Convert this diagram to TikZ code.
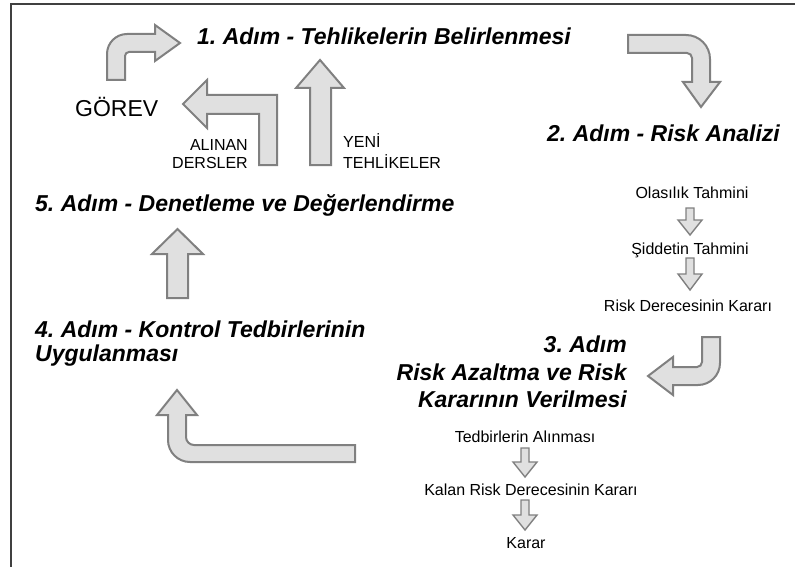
\documentclass[tikz,border=0pt]{standalone}
\usepackage{fontspec}
\setmainfont{Liberation Sans}
\definecolor{arrfill}{HTML}{E0E0E0}
\definecolor{arrline}{HTML}{808080}
\definecolor{framec}{HTML}{404040}
\newcommand{\hdfont}{\fontsize{23}{27.5}\selectfont\bfseries\itshape}
\newcommand{\smfont}{\fontsize{16}{19}\selectfont}
\newcommand{\gvfont}{\fontsize{23}{27.5}\selectfont}
\frenchspacing
\begin{document}
\frenchspacing
\begin{tikzpicture}[x=1pt,y=-1pt,
  blk/.style={fill=arrfill, draw=arrline, line width=2pt, line join=miter},
  sblk/.style={fill=arrfill, draw=arrline, line width=1.4pt, line join=miter},
  hd/.style={font=\hdfont, inner sep=0pt},
  sm/.style={font=\smfont, inner sep=0pt},
  gv/.style={font=\gvfont, inner sep=0pt},
  frame/.style={draw=framec, line width=2pt}]
\useasboundingbox (0,0) rectangle (795,567);
\draw[frame] (11,567) -- (11,4) -- (795,4);

% texts
\node[hd, anchor=base west] (s1) at (197,45) {1. Adım - Tehlikelerin Belirlenmesi};
\node[hd, anchor=base east] (s2) at (780,142) {2. Adım - Risk Analizi};
\node[sm, anchor=base] (o1) at (692,198) {Olasılık Tahmini};
\node[sm, anchor=base] (o2) at (690,254) {Şiddetin Tahmini};
\node[sm, anchor=base] (o3) at (688,311) {Risk Derecesinin Kararı};
\node[hd, anchor=base east] (s3a) at (627,352) {3. Adım};
\node[hd, anchor=base east] (s3b) at (627,380) {Risk Azaltma ve Risk};
\node[hd, anchor=base east] (s3c) at (627,407) {Kararının Verilmesi};
\node[sm, anchor=base] (t1) at (525,442) {Tedbirlerin Alınması};
\node[sm, anchor=base] (t2) at (531,495) {Kalan Risk Derecesinin Kararı};
\node[sm, anchor=base] (t3) at (526,548) {Karar};
\node[hd, anchor=base west] (s4a) at (35,337) {4. Adım - Kontrol Tedbirlerinin};
\node[hd, anchor=base west] (s4b) at (35,361) {Uygulanması};
\node[hd, anchor=base west] (s5) at (35,211) {5. Adım - Denetleme ve Değerlendirme};
\node[gv, anchor=base west] (gorev) at (75,117) {GÖREV};
\node[sm, anchor=base east] (al1) at (248,150) {ALINAN};
\node[sm, anchor=base east] (al2) at (248,168) {DERSLER};
\node[sm, anchor=base west] (ye1) at (343,148) {YENİ};
\node[sm, anchor=base west] (ye2) at (343,168) {TEHLİKELER};

% block arrows
% A: GOREV -> step 1
\draw[blk] (107,80) -- (107,54) .. controls (107,42.95) and (115.95,34) .. (127,34)
  -- (155,34) -- (155,25) -- (180,43) -- (155,61) -- (155,52) -- (129,52)
  .. controls (126.79,52) and (125,53.79) .. (125,56) -- (125,80) -- cycle;
% B: step 1 -> step 2
\draw[blk] (628,35) -- (686,35) .. controls (699.25,35) and (710,45.75) .. (710,59)
  -- (710,82) -- (720,82) -- (701,107) -- (683,82) -- (692,82) -- (692,58)
  .. controls (692,55.24) and (689.76,53) .. (687,53) -- (628,53) -- cycle;
% C: step 2 -> step 3
\draw[blk] (702,337) -- (720,337) -- (720,363) .. controls (720,375.15) and (710.15,385) .. (698,385)
  -- (673,385) -- (673,395) -- (648,376) -- (673,357) -- (673,367) -- (697,367)
  .. controls (699.76,367) and (702,364.76) .. (702,362) -- cycle;
% D: step 3 -> step 4
\draw[blk] (355,462) -- (190,462) .. controls (177.85,462) and (168,452.15) .. (168,440)
  -- (168,415) -- (157,415) -- (177,390) -- (197,415) -- (186,415) -- (186,437)
  .. controls (186,441.42) and (189.58,445) .. (194,445) -- (355,445) -- cycle;
% E: step 4 -> step 5
\draw[blk] (167,298) -- (167,254) -- (152,254) -- (177.5,229) -- (203,254) -- (188,254) -- (188,298) -- cycle;
% F: yeni tehlikeler
\draw[blk] (310,165) -- (310,88) -- (296,88) -- (320,60) -- (344,88) -- (331,88) -- (331,165) -- cycle;
% G: alinan dersler
\draw[blk] (259,165) -- (259,114) -- (207,114) -- (207,128) -- (183,104) -- (207,80) -- (207,95)
  -- (277,95) -- (277,165) -- cycle;

% small arrows
\draw[sblk] (686,208) -- (694,208) -- (694,220) -- (702,220) -- (690,235) -- (678,220) -- (686,220) -- cycle;
\draw[sblk] (686,258) -- (694,258) -- (694,274) -- (702,274) -- (690,290) -- (678,274) -- (686,274) -- cycle;
\draw[sblk] (521,448) -- (529,448) -- (529,462) -- (537,462) -- (525,477) -- (513,462) -- (521,462) -- cycle;
\draw[sblk] (521,500) -- (529,500) -- (529,515) -- (537,515) -- (525,530) -- (513,515) -- (521,515) -- cycle;
\end{tikzpicture}
\end{document}
